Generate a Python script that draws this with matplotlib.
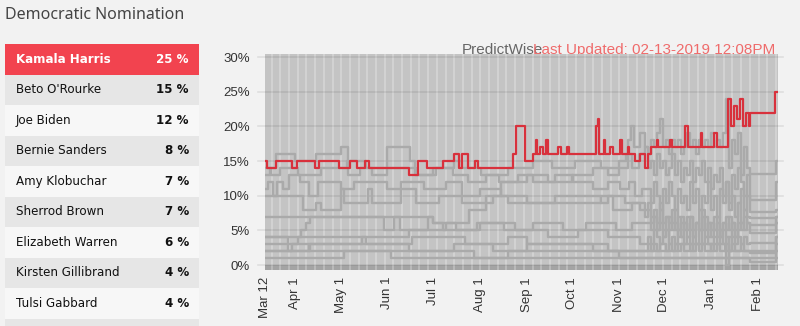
import numpy as np
import matplotlib
matplotlib.use('Agg')
import matplotlib.pyplot as plt
import matplotlib.dates as mdates
from matplotlib.patches import Rectangle

# leaderboard
names = ['Kamala Harris', "Beto O'Rourke", 'Joe Biden', 'Bernie Sanders',
         'Amy Klobuchar', 'Sherrod Brown', 'Elizabeth Warren',
         'Kirsten Gillibrand', 'Tulsi Gabbard']
odds = [25, 15, 12, 8, 7, 7, 6, 4, 4]

# price history: (month-day, percent) change points up to mid Nov,
# then one reading every 2 days from Nov 20 to Jan 25 (busy period),
# then the quiet end (Jan 27) and the last update (Feb 13)
harris_md = ['03-12', '03-13', '03-19', '03-30', '04-02', '04-14', '04-17', '04-30',
             '05-07', '05-12', '05-17', '05-20', '06-15', '06-21', '06-27', '07-08',
             '07-15', '07-18', '07-20', '07-24', '07-29', '07-31', '08-22', '08-23',
             '08-25', '08-31', '09-05', '09-07', '09-08', '09-10', '09-12', '09-14',
             '09-15', '09-22', '09-24', '09-28', '09-29', '10-17', '10-18', '10-19',
             '10-22', '10-23', '10-26', '10-28', '11-02', '11-03', '11-07', '11-08',
             '11-12', '11-15', '11-18', '11-20', '11-22', '11-26', '11-27', '12-05',
             '12-06', '12-15', '12-17', '12-25', '12-26', '01-03', '01-05', '01-12',
             '01-14', '01-16', '01-18', '01-20', '01-22', '01-24', '01-26', '01-27',
             '02-12']
harris_vals = [15, 14, 15, 14, 15, 14, 15, 14,
               15, 14, 15, 14, 13, 15, 14, 15,
               16, 14, 16, 14, 15, 14, 14, 16,
               20, 15, 16, 18, 16, 17, 16, 18,
               16, 17, 16, 17, 16, 20, 21, 16,
               18, 16, 17, 16, 18, 16, 17, 16,
               15, 16, 14, 16, 17, 18, 17, 18,
               17, 20, 17, 19, 17, 19, 17, 24,
               20, 23, 21, 24, 20, 22, 20, 22,
               25]

biden_md = ['03-12', '03-16', '03-22', '04-03', '04-18', '05-05', '05-18', '06-20',
            '07-01', '07-15', '07-20', '08-02', '08-20', '09-05', '09-18', '10-03',
            '10-20', '11-01', '11-06', '11-10', '11-14', '11-18']
biden_vals = [14, 13, 14, 13, 14, 15, 14, 13,
              14, 15, 14, 13, 14, 15, 14, 15,
              14, 15, 16, 14, 16, 17]
biden_late = [14, 15, 13, 16, 14, 15, 13, 14, 16, 13, 15, 12, 14, 13, 15, 12, 14,
              13, 15, 12, 14, 11, 13, 12, 14, 10, 12, 9, 13, 11, 14, 12, 10, 13]
biden_tail = [9.4, 12]

sanders_md = ['03-12', '03-15', '03-19', '04-01', '04-15', '05-01', '05-06', '05-14',
              '05-22', '06-01', '06-16', '06-19', '07-03', '07-14', '07-24', '08-05',
              '08-14', '08-26', '09-05', '09-20', '10-02', '10-15', '10-25', '11-02',
              '11-08', '11-12', '11-16']
sanders_vals = [13, 14, 16, 15, 16, 17, 13, 14,
                13, 17, 15, 13, 14, 13, 12, 13,
                12, 13, 12, 13, 12, 11, 12, 11,
                12, 10, 11]
sanders_late = [11, 9, 12, 10, 8, 11, 9, 12, 10, 8, 11, 9, 10, 8, 12, 9, 11,
                8, 10, 9, 12, 8, 10, 7, 11, 9, 12, 8, 10, 7, 9, 11, 8, 10]
sanders_tail = [7.7, 8]

beto_md = ['03-12', '04-10', '05-15', '06-15', '07-10', '07-25', '08-05', '08-15',
           '09-01', '09-15', '10-01', '10-15', '10-25', '11-01', '11-07', '11-09',
           '11-11', '11-15', '11-18']
beto_vals = [2, 3, 4, 5, 6, 8, 10, 12,
             13, 12, 13, 14, 13, 14, 18, 20,
             17, 19, 17]
beto_late = [16, 18, 17, 19, 21, 17, 18, 16, 18, 17, 18, 16, 17, 19, 17, 18, 16,
             18, 17, 18, 17, 19, 17, 18, 17, 19, 24, 14, 18, 16, 19, 13, 17, 14]
beto_tail = [13.2, 15]

warren_md = ['03-12', '03-14', '03-17', '03-20', '03-24', '03-28', '04-04', '04-10',
             '04-16', '05-01', '05-10', '06-01', '06-10', '06-25', '07-10', '07-20',
             '08-01', '08-15', '09-01', '09-20', '10-20', '10-25', '11-05', '11-15']
warren_vals = [11, 12, 10, 12, 11, 13, 12, 10,
               12, 11, 12, 11, 12, 11, 12, 10,
               11, 10, 9, 10, 9, 10, 9, 8]
warren_late = [8, 6, 7, 5, 8, 6, 7, 5, 6, 8, 5, 7, 6, 4, 7, 5, 6,
               8, 5, 7, 4, 6, 5, 7, 4, 6, 5, 7, 5, 4, 6, 5, 7, 6]
warren_tail = [4.6, 6]

klobuchar_md = ['03-12', '04-06', '04-15', '04-18', '05-01', '05-03', '05-19', '05-22',
                '06-10', '06-20', '07-05', '07-20', '08-10', '08-20', '10-20', '10-28',
                '11-10', '11-18']
klobuchar_vals = [10, 8, 9, 8, 11, 9, 11, 9,
                  11, 9, 10, 9, 10, 9, 10, 8,
                  9, 7]
klobuchar_late = [9, 7, 8, 6, 9, 5, 7, 6, 8, 5, 7, 4, 6, 5, 7, 4, 6,
                  5, 8, 4, 6, 5, 7, 4, 5, 6, 0, 4, 6, 5, 9, 6, 8, 7]
klobuchar_tail = [6.8, 7]

brown_md = ['03-12', '05-30', '06-05', '06-09', '06-28', '07-01', '07-08', '08-01',
            '08-17', '09-05', '09-25', '10-10', '10-30', '11-10']
brown_vals = [7, 5, 7, 5, 7, 6, 5, 6,
              5, 6, 5, 6, 5, 6]
brown_late = [6, 5, 7, 5, 6, 4, 5, 7, 5, 6, 4, 6, 5, 7, 5, 4, 6,
              5, 7, 5, 6, 4, 5, 6, 4, 5, 7, 5, 6, 4, 5, 6, 5, 6]
brown_tail = [5.8, 7]

gillibrand_md = ['03-12', '04-05', '04-08', '04-11', '07-01', '07-16', '07-30', '08-24',
                 '09-15', '10-05', '10-25', '11-15']
gillibrand_vals = [4, 5, 6, 7, 6, 5, 6, 5,
                   4, 5, 4, 3]
gillibrand_late = [4, 3, 5, 4, 3, 4, 5, 3, 4, 3, 5, 4, 3, 4, 2, 4, 3,
                   5, 3, 4, 3, 2, 4, 3, 5, 3, 4, 2, 4, 3, 4, 3, 4, 3]
gillibrand_tail = [3.2, 4]

gabbard_md = ['03-12', '03-27', '04-03', '05-18', '06-17', '07-22', '08-20', '09-01',
              '10-15']
gabbard_vals = [4, 3, 4, 3, 4, 3, 4, 3,
                2]
gabbard_late = [3, 2, 3, 2, 3, 3, 2, 3, 2, 3, 2, 3, 2, 2, 3, 2, 3,
                2, 3, 2, 2, 3, 2, 3, 2, 2, 3, 2, 3, 2, 2, 3, 2, 2]
gabbard_tail = [1.7, 4]

booker_md = ['03-12', '03-27', '04-11', '06-15', '07-15', '08-10', '09-01', '10-25',
             '12-10', '01-10', '02-13']
booker_vals = [3, 2, 3, 2, 3, 2, 3, 2,
               3, 2, 3]

castro_md = ['03-12', '05-03', '06-03', '08-20', '11-01', '01-27', '02-13']
castro_vals = [1, 2, 1, 2, 1, 0.5, 2]

cuomo_md = ['03-12', '03-30', '04-10', '07-28', '02-13']
cuomo_vals = [2, 3, 2, 1, 1]

start = np.datetime64('2018-03-12')
end = np.datetime64('2019-02-14T06:00')
late_days = np.datetime64('2018-11-20') + np.arange(34) * np.timedelta64(2, 'D')
tail_md = ['01-27', '02-13']


def to_dates(md):
    '''
    month-day strings to datetimes (Mar-Dec is 2018, Jan-Feb is 2019)
    '''
    out = []
    for s in md:
        year = 2018 if int(s[:2]) >= 3 else 2019
        out.append(np.datetime64('%d-%s' % (year, s)))
    return np.array(out, dtype='datetime64[m]')


def series(md, vals, late=None, tail=None):
    '''
    join the pieces of a price history, held flat up to the right edge
    '''
    d = list(to_dates(md))
    v = list(vals)
    if late is not None:
        d += list(late_days.astype('datetime64[m]'))
        v += list(late)
        d += list(to_dates(tail_md))
        v += list(tail)
    d.append(end)
    v.append(v[-1])
    return np.array(d, dtype='datetime64[m]'), v


fig = plt.figure(figsize=(8, 3.26), dpi=100, facecolor='#f2f2f2')

# left panel, drawn in pixel units
left = fig.add_axes([0, 0, 1, 1], zorder=0)
left.set_xlim(0, 800)
left.set_ylim(326, 0)
left.axis('off')
left.text(5, 15, 'Democratic Nomination', fontsize=11.5, color='#444444',
          family='Noto Sans', va='center', ha='left')

row_h = 30.5
for i in range(10):
    top = 44 + row_h * i
    if i == 0:
        col = '#f2434f'
    elif i % 2 == 1:
        col = '#e6e6e6'
    else:
        col = '#f7f7f7'
    left.add_patch(Rectangle((5, top), 194, row_h, color=col, lw=0))
for i, (nm, v) in enumerate(zip(names, odds)):
    yc = 44 + row_h * i + row_h / 2
    tc = 'white' if i == 0 else '#111111'
    left.text(16, yc, nm, fontsize=8.6, color=tc, va='center', ha='left',
              family='DejaVu Sans', fontweight='bold' if i == 0 else 'normal')
    left.text(189, yc, '%d %%' % v, fontsize=8.6, color=tc, va='center',
              ha='right', family='DejaVu Sans', fontweight='bold')

left.text(462, 50, 'PredictWise', fontsize=11, color='#666666',
          family='Liberation Sans', va='center', ha='left')
left.text(775, 50, 'Last Updated: 02-13-2019 12:08PM', fontsize=11,
          color='#ef6b6b', family='Liberation Sans', va='center', ha='right')

# chart
ax = fig.add_axes([265 / 800, 56 / 326, 513 / 800, 216 / 326], zorder=1)
ax.patch.set_alpha(0)
ax.set_xlim(start, end)
ax.set_ylim(-0.72, 30.45)
ax.add_patch(Rectangle((0, 0), 1, 1, transform=ax.transAxes,
                       color='#c4c4c4', lw=0, zorder=0))
ax.axhspan(-0.72, 0.05, color='#a4a4a4', lw=0, zorder=0.5)

x0 = mdates.date2num(start)
for k in range(60):
    xv = x0 + 4.4 + 5.75 * k
    ax.axvline(xv, color='white', alpha=0.28, lw=1.3, zorder=0.6)

for yv in range(0, 31, 5):
    ax.axhline(yv, xmin=-0.014, xmax=1.01, color='black', alpha=0.08,
               lw=1.2, clip_on=False, zorder=0.7)

grays = [series(biden_md, biden_vals, biden_late, biden_tail),
         series(sanders_md, sanders_vals, sanders_late, sanders_tail),
         series(beto_md, beto_vals, beto_late, beto_tail),
         series(warren_md, warren_vals, warren_late, warren_tail),
         series(klobuchar_md, klobuchar_vals, klobuchar_late, klobuchar_tail),
         series(brown_md, brown_vals, brown_late, brown_tail),
         series(gillibrand_md, gillibrand_vals, gillibrand_late, gillibrand_tail),
         series(gabbard_md, gabbard_vals, gabbard_late, gabbard_tail),
         series(booker_md, booker_vals),
         series(castro_md, castro_vals),
         series(cuomo_md, cuomo_vals)]
for d, v in grays:
    ax.step(d, v, where='post', color='#aaaaaa', lw=1.7, zorder=2)

d, v = series(harris_md, harris_vals)
ax.step(d, v, where='post', color='#d8313c', lw=1.6, zorder=3)

for s in ax.spines.values():
    s.set_visible(False)

ax.set_yticks(range(0, 31, 5))
ax.set_yticklabels(['%d%%' % t for t in range(0, 31, 5)])
xt = ['2018-03-12', '2018-04-01', '2018-05-01', '2018-06-01', '2018-07-01',
      '2018-08-01', '2018-09-01', '2018-10-01', '2018-11-01', '2018-12-01',
      '2019-01-01', '2019-02-01']
xl = ['Mar 12', 'Apr 1', 'May 1', 'Jun 1', 'Jul 1', 'Aug 1', 'Sep 1', 'Oct 1',
      'Nov 1', 'Dec 1', 'Jan 1', 'Feb 1']
ax.set_xticks([np.datetime64(t) for t in xt])
ax.set_xticklabels(xl, rotation=90)
ax.tick_params(axis='y', length=0, pad=11, labelsize=9.5, labelcolor='#333333')
ax.tick_params(axis='x', length=0, pad=5, labelsize=9.5, labelcolor='#333333')
for lab in ax.get_xticklabels() + ax.get_yticklabels():
    lab.set_family('Liberation Sans')

fig.savefig('out.png', dpi=100, facecolor=fig.get_facecolor())
